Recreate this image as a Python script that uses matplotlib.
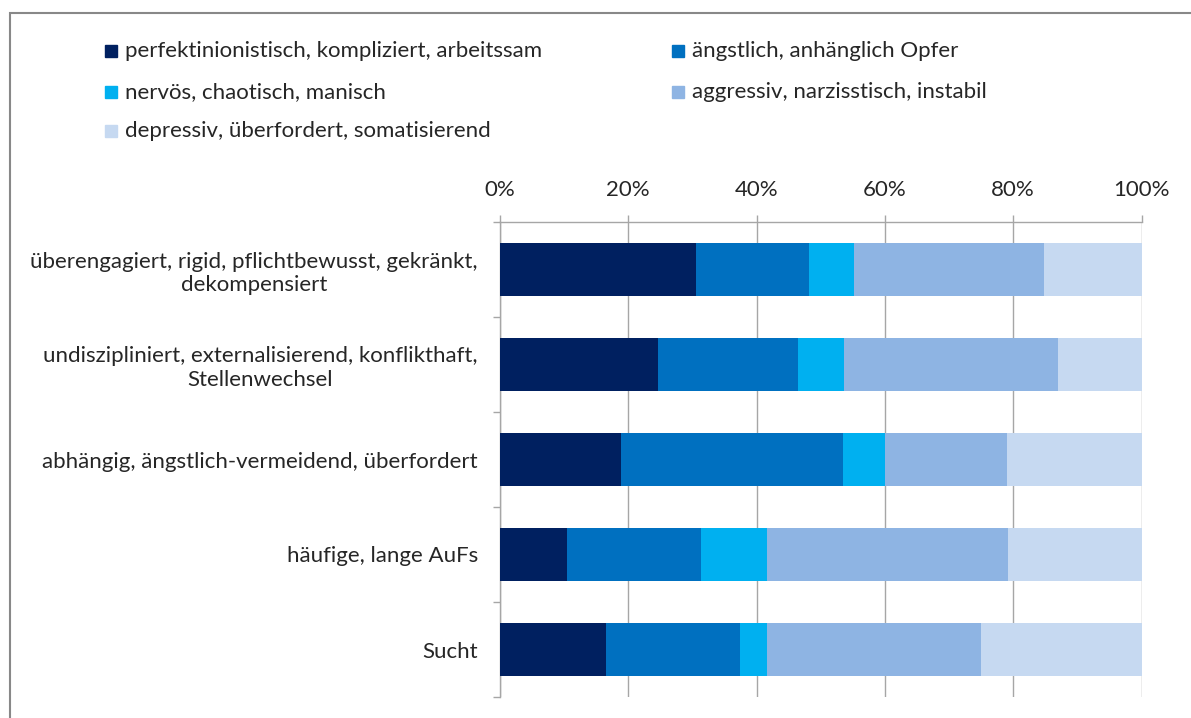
import matplotlib
matplotlib.use('Agg')
import matplotlib.pyplot as plt
from matplotlib.patches import Rectangle
from matplotlib.ticker import FixedLocator, PercentFormatter
import numpy as np

plt.rcParams['font.family'] = ['Lato', 'DejaVu Sans']

# Categories, top to bottom
categories = [
    "überengagiert, rigid, pflichtbewusst, gekränkt,\ndekompensiert",
    "undiszipliniert, externalisierend, konflikthaft,\nStellenwechsel",
    "abhängig, ängstlich-vermeidend, überfordert",
    "häufige, lange AuFs",
    "Sucht",
]

series_names = [
    "perfektinionistisch, kompliziert, arbeitssam",
    "ängstlich, anhänglich Opfer",
    "nervös, chaotisch, manisch",
    "aggressiv, narzisstisch, instabil",
    "depressiv, überfordert, somatisierend",
]

# shares in percent
perfektionistisch = [30.6, 24.6, 18.9, 10.5, 16.6]
aengstlich = [17.6, 21.8, 34.5, 20.8, 20.8]
nervoes = [7.0, 7.2, 6.6, 10.3, 4.2]
aggressiv = [29.6, 33.4, 19.0, 37.6, 33.4]
depressiv = [15.2, 13.0, 21.0, 20.8, 25.0]

colors = ['#002060', '#0070C0', '#00B0F0', '#8EB4E3', '#C6D9F1']

series = [perfektionistisch, aengstlich, nervoes, aggressiv, depressiv]

FS = 16
W, H = 1191, 718
fig = plt.figure(figsize=(W / 100, H / 100), dpi=100)
ax = fig.add_axes([500 / W, 1 - 697 / H, 641.5 / W, 475 / H])

y = np.arange(len(categories))
left = np.zeros(len(categories))
for vals, col, name in zip(series, colors, series_names):
    vals = np.array(vals)
    ax.barh(y, vals, left=left, height=0.55, color=col, label=name, zorder=3)
    left += vals

ax.set_xlim(0, 100)
ax.set_ylim(len(categories) - 0.5, -0.5)
ax.set_xticks([0, 20, 40, 60, 80, 100])
ax.xaxis.set_major_formatter(PercentFormatter(decimals=0))
ax.xaxis.tick_top()
ax.set_yticks(y)
ax.set_yticklabels(categories, fontsize=FS, color='#262626', multialignment='center')
ax.yaxis.set_minor_locator(FixedLocator(np.arange(-0.5, len(categories), 1.0)))
ax.tick_params(axis='y', which='major', length=0, pad=16)
ax.tick_params(axis='y', which='minor', length=5, color='#A6A6A6', width=1)
ax.tick_params(axis='x', which='major', length=5, color='#A6A6A6', width=1,
               labelsize=FS, labelcolor='#262626', pad=11)

ax.grid(axis='x', color='#A6A6A6', linewidth=1, zorder=0)
for s in ['bottom', 'right']:
    ax.spines[s].set_visible(False)
for s in ['top', 'left']:
    ax.spines[s].set_color('#A6A6A6')
    ax.spines[s].set_linewidth(1)

# outer chart frame (only left/top visible in the crop)
fig.add_artist(Rectangle((10 / W, -0.1), 1.2, 1 - 13 / H + 0.1, transform=fig.transFigure,
                         fill=False, edgecolor='#888888', linewidth=1.5))

# legend, laid out row by row like the original
legend_pos = [(105, 51), (672, 51), (105, 92), (672, 92), (105, 131)]
for (lx, ly), col, name in zip(legend_pos, colors, series_names):
    fig.add_artist(Rectangle((lx / W, 1 - (ly + 6) / H), 12 / W, 12 / H,
                             transform=fig.transFigure, color=col))
    fig.text((lx + 20) / W, 1 - ly / H, name, fontsize=FS, color='#262626',
             va='center', ha='left')

fig.savefig('out.png', dpi=100)
